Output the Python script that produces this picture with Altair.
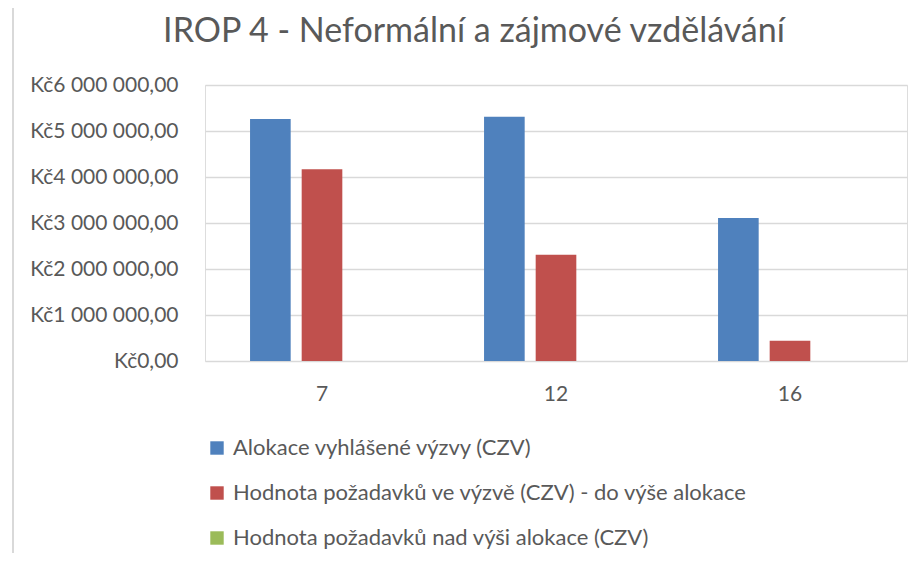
import altair as alt
import pandas as pd

title_text = "IROP 4 - Neformální a zájmové vzdělávání"
categories = ["7", "12", "16"]
series = [
    "Alokace vyhlášené výzvy (CZV)",
    "Hodnota požadavků ve výzvě (CZV) - do výše alokace",
    "Hodnota požadavků nad výši alokace (CZV)",
]
alokace = [5260000, 5310000, 3110000]
pozadavky_do = [4170000, 2310000, 440000]
pozadavky_nad = [0, 0, 0]
colors = ["#4f81bd", "#c0504d", "#9bbb59"]
y_ticks = [0, 1000000, 2000000, 3000000, 4000000, 5000000, 6000000]

rows = []
for vals, s in zip([alokace, pozadavky_do, pozadavky_nad], series):
    for c, v in zip(categories, vals):
        rows.append({"kategorie": c, "serie": s, "hodnota": v})
df = pd.DataFrame(rows)

FONT = "Lato"
TXT = "#595959"

label_expr = (
    "'Kč' + replace(replace(format(datum.value, ',.2f'), regexp(',', 'g'), ' '), '.', ',')"
)

bars = (
    alt.Chart(df)
    .mark_bar()
    .encode(
        x=alt.X(
            "kategorie:N",
            sort=categories,
            scale=alt.Scale(paddingInner=0.385, paddingOuter=0.1925),
            axis=alt.Axis(
                title=None,
                labelAngle=0,
                domain=False,
                ticks=False,
                tickSize=0,
                labelPadding=22,
                labelFont=FONT,
                labelFontSize=21,
                labelColor=TXT,
                grid=False,
            ),
        ),
        xOffset=alt.XOffset(
            "serie:N", sort=series, scale=alt.Scale(paddingInner=0.213, paddingOuter=0)
        ),
        y=alt.Y(
            "hodnota:Q",
            scale=alt.Scale(domain=[0, 6000000], nice=False),
            axis=alt.Axis(
                title=None,
                values=y_ticks,
                labelExpr=label_expr,
                domain=False,
                ticks=False,
                tickSize=0,
                labelPadding=27,
                labelFont=FONT,
                labelFontSize=21,
                labelColor=TXT,
                gridColor="#d9d9d9",
                gridWidth=1.5,
            ),
        ),
        color=alt.Color(
            "serie:N",
            sort=series,
            scale=alt.Scale(domain=series, range=colors),
            legend=alt.Legend(
                title=None,
                orient="none",
                legendX=1,
                legendY=352,
                direction="vertical",
                symbolType="square",
                symbolSize=180,
                symbolStrokeWidth=0,
                labelFont=FONT,
                labelFontSize=22,
                labelColor=TXT,
                labelLimit=800,
                rowPadding=23,
                labelOffset=5,
            ),
        ),
    )
)

border = (
    alt.Chart(pd.DataFrame({"b": [0]}))
    .mark_rule(color="#d9d9d9", strokeWidth=2)
    .encode(x=alt.value(-192), y=alt.value(-77), y2=alt.value(470))
)

title = (
    alt.Chart(pd.DataFrame({"t": [title_text]}))
    .mark_text(
        font=FONT,
        fontSize=34,
        color=TXT,
        align="center",
        baseline="alphabetic",
    )
    .encode(text="t:N", x=alt.value(269), y=alt.value(-43))
)

chart = (
    alt.layer(border, bars, title)
    .properties(
        width=702,
        height=276,
        autosize=alt.AutoSizeParams(type="none"),
        padding={"left": 197, "top": 77, "right": 8, "bottom": 192},
    )
    .configure_view(stroke=None)
    .configure(background="white")
)

chart.save("out.html", embed_options={"renderer": "svg", "actions": False})
